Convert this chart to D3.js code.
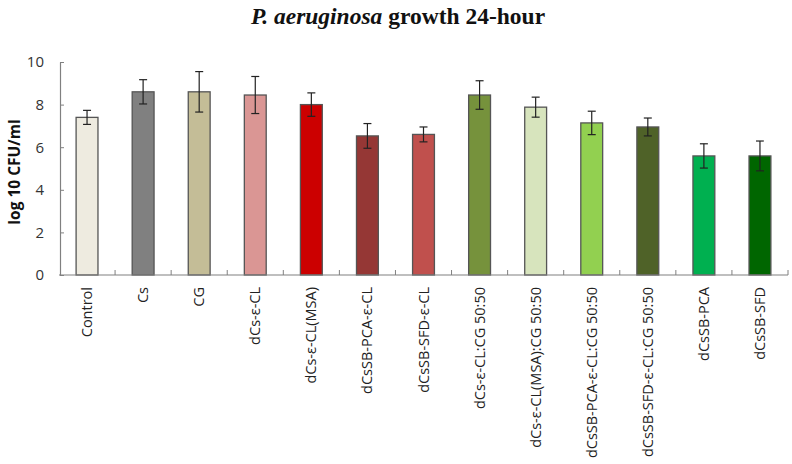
<!DOCTYPE html>
<html>
<head>
<meta charset="utf-8">
<script src="https://cdn.jsdelivr.net/npm/d3@7"></script>
<style>
  body { margin: 0; background: #fff; }
  svg { display: block; }
</style>
</head>
<body>
<script>
var categories = ['Control', 'Cs', 'CG', 'dCs-ε-CL', 'dCs-ε-CL(MSA)', 'dCsSB-PCA-ε-CL', 'dCsSB-SFD-ε-CL',
    'dCs-ε-CL:CG 50:50', 'dCs-ε-CL(MSA):CG 50:50', 'dCsSB-PCA-ε-CL:CG 50:50', 'dCsSB-SFD-ε-CL:CG 50:50',
    'dCsSB-PCA', 'dCsSB-SFD'];
var values = [7.4, 8.6, 8.6, 8.45, 8.0, 6.53, 6.6, 8.45, 7.88, 7.14, 6.95, 5.59, 5.59];
var errors = [0.33, 0.57, 0.95, 0.87, 0.55, 0.58, 0.35, 0.67, 0.47, 0.55, 0.42, 0.57, 0.7];
var colors = ['#EEEBE0', '#808080', '#C4BD97', '#DA9694', '#CC0000', '#953735', '#C0504D',
    '#76923C', '#D7E4BD', '#92D050', '#4F6228', '#00B050', '#006600'];
var yTicks = [0, 2, 4, 6, 8, 10];

var svgWidth = 792;
var svgHeight = 464;
var margin = {top: 62, left: 59, right: 4, bottom: 189};

var svg = d3.select('body')
    .append('svg')
    .attr('width', svgWidth)
    .attr('height', svgHeight);

var x = d3.scaleBand()
    .domain(categories)
    .range([margin.left, svgWidth - margin.right])
    .paddingInner(0.61)
    .paddingOuter(0.305);

var step = x.step();

var y = d3.scaleLinear()
    .domain([0, 10])
    .range([svgHeight - margin.bottom, margin.top]);

// title
var title = svg.append('text')
    .attr('x', 398)
    .attr('y', 24)
    .attr('text-anchor', 'middle')
    .attr('font-family', '"Liberation Serif", serif')
    .attr('font-size', 23.5)
    .attr('font-weight', 'bold')
    .style('fill', '#111');
title.append('tspan').attr('font-style', 'italic').text('P. aeruginosa');
title.append('tspan').text(' growth 24-hour');

// bars
svg.append('g')
    .selectAll('rect')
    .data(values)
    .enter()
    .append('rect')
    .attr('x', function (d, i) { return x(categories[i]); })
    .attr('y', function (d) { return y(d); })
    .attr('width', x.bandwidth())
    .attr('height', function (d) { return y(0) - y(d); })
    .style('fill', function (d, i) { return colors[i]; })
    .style('stroke', '#555')
    .style('stroke-width', 1.3);

// error bars
var err = svg.append('g')
    .selectAll('g')
    .data(values)
    .enter()
    .append('g')
    .attr('stroke', '#222')
    .attr('stroke-width', 1.2);

err.append('line')
    .attr('x1', function (d, i) { return x(categories[i]) + x.bandwidth() / 2; })
    .attr('x2', function (d, i) { return x(categories[i]) + x.bandwidth() / 2; })
    .attr('y1', function (d, i) { return y(d - errors[i]); })
    .attr('y2', function (d, i) { return y(d + errors[i]); });

[-1, 1].forEach(function (s) {
    err.append('line')
        .attr('x1', function (d, i) { return x(categories[i]) + x.bandwidth() / 2 - 4; })
        .attr('x2', function (d, i) { return x(categories[i]) + x.bandwidth() / 2 + 4; })
        .attr('y1', function (d, i) { return y(d + s * errors[i]); })
        .attr('y2', function (d, i) { return y(d + s * errors[i]); });
});

// y axis
var yAxis = svg.append('g')
    .attr('transform', 'translate(' + (margin.left + 1) + ',0)')
    .call(d3.axisLeft(y).tickValues(yTicks).tickSizeInner(-4).tickSizeOuter(0).tickPadding(16));
yAxis.select('.domain').attr('stroke', '#808080').attr('stroke-width', 1.2);
yAxis.selectAll('.tick line').attr('stroke', '#808080');
yAxis.selectAll('.tick text')
    .attr('font-family', '"Open Sans", sans-serif')
    .attr('font-size', 15)
    .style('fill', '#333');

// x axis: ticks between categories
var xAxis = svg.append('g')
    .attr('transform', 'translate(0,' + y(0) + ')');
xAxis.append('line')
    .attr('x1', margin.left)
    .attr('x2', svgWidth - margin.right)
    .attr('stroke', '#808080')
    .attr('stroke-width', 1.2);
xAxis.selectAll('.sep')
    .data(categories)
    .enter()
    .append('line')
    .attr('class', 'sep')
    .attr('x1', function (d) { return x(d) - step * 0.305 + step; })
    .attr('x2', function (d) { return x(d) - step * 0.305 + step; })
    .attr('y1', 0)
    .attr('y2', -5)
    .attr('stroke', '#808080');

xAxis.selectAll('.lab')
    .data(categories)
    .enter()
    .append('text')
    .attr('class', 'lab')
    .attr('transform', function (d) {
        return 'translate(' + (x(d) + x.bandwidth() / 2 + 5) + ',12) rotate(-90)';
    })
    .attr('text-anchor', 'end')
    .attr('font-family', '"Open Sans", sans-serif')
    .attr('font-size', 14.5)
    .style('fill', '#222')
    .text(function (d) { return d; });

// y axis title
svg.append('text')
    .attr('transform', 'translate(20,' + 172 + ') rotate(-90)')
    .attr('text-anchor', 'middle')
    .attr('font-family', '"Open Sans", sans-serif')
    .attr('font-size', 15.5)
    .attr('font-weight', 'bold')
    .style('fill', '#111')
    .text('log 10 CFU/ml');
</script>
</body>
</html>
